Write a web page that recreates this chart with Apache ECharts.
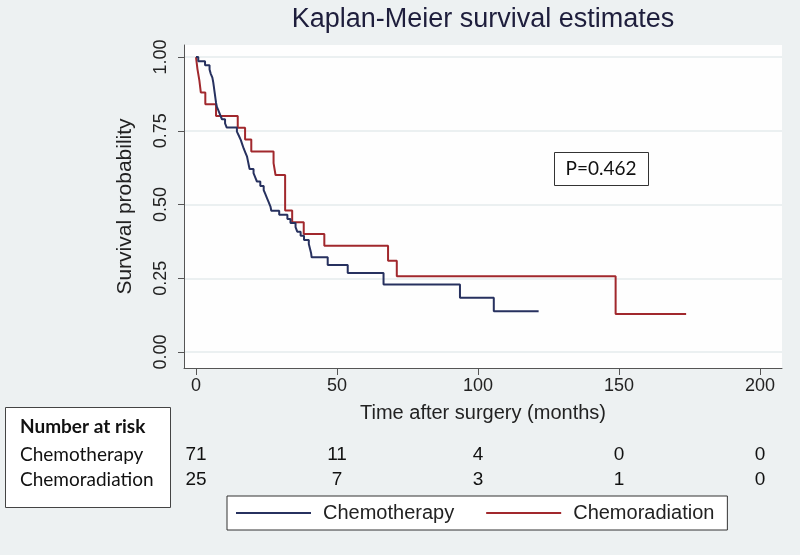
<!DOCTYPE html>
<html><head><meta charset="utf-8">
<script src="https://cdn.jsdelivr.net/npm/echarts@6/dist/echarts.min.js"></script>
<style>html,body{margin:0;padding:0;background:#edf1f2}#c{width:800px;height:560px}</style>
</head><body><div id="c"></div>
<script>
// ---- data ----
const titleText = 'Kaplan-Meier survival estimates';
const xName = 'Time after surgery (months)';
const yName = 'Survival probability';
const seriesNames = ['Chemotherapy', 'Chemoradiation'];
const xTicks = [0, 50, 100, 150, 200];
const yTicks = [0, 0.25, 0.5, 0.75, 1];
const chemoTime = [0,0.8,3.2,4.8,5.2,5.8, 6.1,6.3,6.5,6.7,6.9,7.1, 7.4,8.0,8.6,9.2,10.3,10.9, 14.5,15.2,15.9,16.4,16.9,17.5, 18.1,18.4,18.7,19.0,20.4,21.0, 21.6,22.8,24.0,24.6,25.2,25.8, 26.4,26.7,29.5,32.4,33.5,35.3, 35.9,37.1,38.3,40.0,40.4,40.8, 41.0,46.7,53.8,66.5,93.6,105.6, 121.5];
const chemoSurv = [1.0,0.986,0.972,0.958,0.944,0.930, 0.915,0.901,0.887,0.873,0.859,0.845, 0.831,0.817,0.803,0.789,0.775,0.761, 0.747,0.733,0.718,0.704,0.690,0.676, 0.662,0.648,0.634,0.620,0.606,0.592, 0.578,0.563,0.549,0.535,0.521,0.507, 0.493,0.479,0.465,0.451,0.437,0.423, 0.408,0.394,0.380,0.366,0.351,0.336, 0.321,0.295,0.268,0.229,0.184,0.138, 0.138];
const radTime = [0,0.5,1.2,1.7,3.3,7.1,14.8,17.4,19.6,27.5,28.2,31.6,34.1,38.2,45.5,68.1,71.2,148.8,173.8];
const radSurv = [1.0,0.96,0.92,0.88,0.84,0.80,0.76,0.72,0.68,0.64,0.60,0.48,0.44,0.40,0.36,0.309,0.257,0.129,0.129];
const riskHeader = 'Number at risk';
const riskTimes = [0, 50, 100, 150, 200];
const riskChemo = [71, 11, 4, 0, 0];
const riskRad = [25, 7, 3, 1, 0];
const pValueText = 'P=0.462';

const colors = ['#27315f', '#a1282d'];
const sans = 'Liberation Sans, Arial, sans-serif';

const chart = echarts.init(document.getElementById('c'), null, {renderer: 'canvas'});
const zip = (t, s) => t.map((v, i) => [v, s[i]]);

const option = {
  backgroundColor: '#edf1f2',
  animation: false,
  title: {
    text: titleText, left: 478, top: 1, textAlign: 'center',
    textStyle: {fontFamily: sans, fontSize: 27, fontWeight: 'normal', color: '#1e1e3c'}
  },
  grid: {left: 184, right: 18, top: 45, bottom: 192, show: true, backgroundColor: '#fefefe', borderWidth: 0},
  xAxis: {
    type: 'value', min: -4.26, max: 207.8,
    name: xName, nameLocation: 'middle', nameGap: 35,
    nameTextStyle: {fontFamily: sans, fontSize: 20, color: '#222'},
    axisLine: {show: true, onZero: false, lineStyle: {color: '#555', width: 1}},
    axisTick: {show: true, length: 7, customValues: xTicks, lineStyle: {color: '#555'}},
    axisLabel: {customValues: xTicks, margin: 9, fontFamily: sans, fontSize: 18, color: '#222'},
    splitLine: {show: false}
  },
  yAxis: {
    type: 'value', min: -0.0542, max: 1.0407,
    name: yName, nameLocation: 'middle', nameGap: 48,
    nameTextStyle: {fontFamily: sans, fontSize: 21, color: '#222'},
    axisLine: {show: true, onZero: false, lineStyle: {color: '#555', width: 1}},
    axisTick: {show: true, length: 6, customValues: yTicks, lineStyle: {color: '#555'}},
    axisLabel: {customValues: yTicks, rotate: 90, margin: 14, fontFamily: sans, fontSize: 18, color: '#222',
      formatter: v => v.toFixed(2)},
    splitLine: {show: true, lineStyle: {color: '#e5ebed', width: 1.5}}
  },
  legend: {
    left: 227, top: 496, orient: 'horizontal',
    padding: [7, 13, 7, 9], itemGap: 32, itemWidth: 75, itemHeight: 2, icon: 'rect',
    borderColor: '#333', borderWidth: 1, backgroundColor: '#fff',
    textStyle: {fontFamily: sans, fontSize: 20, color: '#222', padding: [0, 0, 0, 7]},
    data: seriesNames
  },
  series: [
    {name: seriesNames[0], type: 'line', step: 'end', symbol: 'none', data: zip(chemoTime, chemoSurv),
      lineStyle: {color: colors[0], width: 2}, itemStyle: {color: colors[0]}, z: 3},
    {name: seriesNames[1], type: 'line', step: 'end', symbol: 'none', data: zip(radTime, radSurv),
      lineStyle: {color: colors[1], width: 2}, itemStyle: {color: colors[1]}, z: 2}
  ]
};
chart.setOption(option);

// graphic overlays: number-at-risk table, p-value box
const g = [];
g.push({type: 'rect', shape: {x: 0, y: 555, width: 800, height: 5}, style: {fill: '#fff'}, silent: true});
g.push({type: 'rect', shape: {x: 5.5, y: 407.5, width: 165, height: 100}, style: {fill: '#fff', stroke: '#444', lineWidth: 1}});
g.push({type: 'text', x: 20, y: 427, style: {text: riskHeader, font: 'bold 19px Lato, sans-serif', fill: '#111', verticalAlign: 'middle'}});
g.push({type: 'text', x: 20, y: 455, style: {text: seriesNames[0], font: '19px Lato, sans-serif', fill: '#111', verticalAlign: 'middle'}});
g.push({type: 'text', x: 20, y: 480, style: {text: seriesNames[1], font: '19px Lato, sans-serif', fill: '#111', verticalAlign: 'middle'}});
riskTimes.forEach((t, i) => {
  const px = chart.convertToPixel({xAxisIndex: 0}, t);
  g.push({type: 'text', x: px, y: 455, style: {text: String(riskChemo[i]), font: '19px Liberation Sans, Arial, sans-serif', fill: '#111', align: 'center', verticalAlign: 'middle'}});
  g.push({type: 'text', x: px, y: 480, style: {text: String(riskRad[i]), font: '19px Liberation Sans, Arial, sans-serif', fill: '#111', align: 'center', verticalAlign: 'middle'}});
});
g.push({type: 'rect', shape: {x: 554.5, y: 152.5, width: 94, height: 33}, style: {fill: '#fff', stroke: '#333', lineWidth: 1}});
g.push({type: 'text', x: 601, y: 169, style: {text: pValueText, font: '19px Lato, sans-serif', fill: '#111', align: 'center', verticalAlign: 'middle'}});
chart.setOption({graphic: g});
</script>
</body></html>
